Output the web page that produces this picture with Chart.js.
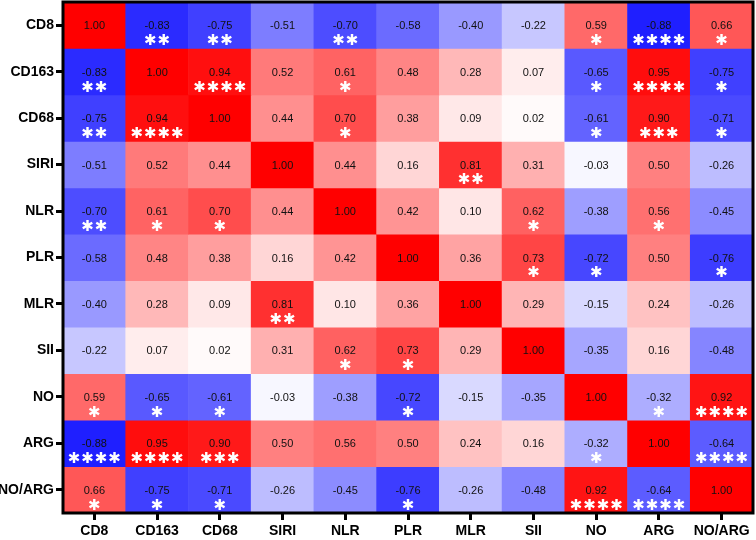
<!DOCTYPE html>
<html>
<head>
<meta charset="utf-8">
<script src="https://cdn.jsdelivr.net/npm/chart.js@4.4.0/dist/chart.umd.min.js"></script>
<style>
  html, body { margin: 0; padding: 0; background: #fff; }
  #wrap { width: 756px; height: 540px; }
</style>
</head>
<body>
<div id="wrap"><canvas id="heat"></canvas></div>
<script>
const variables = ["CD8", "CD163", "CD68", "SIRI", "NLR", "PLR", "MLR", "SII", "NO", "ARG", "NO/ARG"];

// correlation matrix, row by row (same order as variables)
const corr = [
    [ 1.00, -0.83, -0.75, -0.51, -0.70, -0.58, -0.40, -0.22,  0.59, -0.88,  0.66],
    [-0.83,  1.00,  0.94,  0.52,  0.61,  0.48,  0.28,  0.07, -0.65,  0.95, -0.75],
    [-0.75,  0.94,  1.00,  0.44,  0.70,  0.38,  0.09,  0.02, -0.61,  0.90, -0.71],
    [-0.51,  0.52,  0.44,  1.00,  0.44,  0.16,  0.81,  0.31, -0.03,  0.50, -0.26],
    [-0.70,  0.61,  0.70,  0.44,  1.00,  0.42,  0.10,  0.62, -0.38,  0.56, -0.45],
    [-0.58,  0.48,  0.38,  0.16,  0.42,  1.00,  0.36,  0.73, -0.72,  0.50, -0.76],
    [-0.40,  0.28,  0.09,  0.81,  0.10,  0.36,  1.00,  0.29, -0.15,  0.24, -0.26],
    [-0.22,  0.07,  0.02,  0.31,  0.62,  0.73,  0.29,  1.00, -0.35,  0.16, -0.48],
    [ 0.59, -0.65, -0.61, -0.03, -0.38, -0.72, -0.15, -0.35,  1.00, -0.32,  0.92],
    [-0.88,  0.95,  0.90,  0.50,  0.56,  0.50,  0.24,  0.16, -0.32,  1.00, -0.64],
    [ 0.66, -0.75, -0.71, -0.26, -0.45, -0.76, -0.26, -0.48,  0.92, -0.64,  1.00],
];

// number of significance stars per cell
const stars = [
    [0, 2, 2, 0, 2, 0, 0, 0, 1, 4, 1],
    [2, 0, 4, 0, 1, 0, 0, 0, 1, 4, 1],
    [2, 4, 0, 0, 1, 0, 0, 0, 1, 3, 1],
    [0, 0, 0, 0, 0, 0, 2, 0, 0, 0, 0],
    [2, 1, 1, 0, 0, 0, 0, 1, 0, 1, 0],
    [0, 0, 0, 0, 0, 0, 0, 1, 1, 0, 1],
    [0, 0, 0, 2, 0, 0, 0, 0, 0, 0, 0],
    [0, 0, 0, 0, 1, 1, 0, 0, 0, 0, 0],
    [1, 1, 1, 0, 0, 1, 0, 0, 0, 1, 4],
    [4, 4, 3, 0, 0, 0, 0, 0, 1, 0, 4],
    [1, 1, 1, 0, 0, 1, 0, 0, 4, 4, 0],
];

function cellColor(v) {
    const t = Math.min(1, Math.abs(v));
    const f = Math.round(255 * (1 - t));
    return v >= 0 ? `rgb(255,${f},${f})` : `rgb(${f},${f},255)`;
}

// one floating-bar dataset per row, each bar spanning one row of the y scale
const datasets = corr.map((row, r) => ({
    label: variables[r],
    data: row.map(() => [r - 0.5, r + 0.5]),
    backgroundColor: row.map(cellColor),
    borderWidth: 0,
    barPercentage: 1,
    categoryPercentage: 1,
    grouped: false,
}));

const cellText = {
    id: "cellText",
    afterDatasetsDraw(chart) {
        const ctx = chart.ctx;
        const xs = chart.scales.x, ys = chart.scales.y;
        ctx.save();
        ctx.textAlign = "center";
        ctx.textBaseline = "middle";
        for (let r = 0; r < corr.length; r++) {
            for (let c = 0; c < corr[r].length; c++) {
                const x = xs.getPixelForValue(c);
                const y = ys.getPixelForValue(r);
                ctx.fillStyle = "#111";
                ctx.font = "11px Arial, 'Liberation Sans', sans-serif";
                ctx.fillText(corr[r][c].toFixed(2), x, y + 1);
                const n = stars[r][c];
                if (n > 0) {
                    ctx.fillStyle = "#fff";
                    ctx.font = "15px 'DejaVu Sans', sans-serif";
                    const step = 13.5;
                    for (let k = 0; k < n; k++) {
                        ctx.fillText("\u2731", x + (k - (n - 1) / 2) * step, y + 16);
                    }
                }
            }
        }
        ctx.restore();
    }
};

const frame = {
    id: "frame",
    afterDraw(chart) {
        const a = chart.chartArea;
        const ctx = chart.ctx;
        ctx.save();
        ctx.strokeStyle = "#000";
        ctx.lineWidth = 3;
        ctx.strokeRect(a.left, a.top, a.right - a.left, a.bottom - a.top);
        ctx.restore();
    }
};

const tickFont = { family: "Arial, 'Liberation Sans', sans-serif", size: 14, weight: "bold" };

new Chart(document.getElementById("heat").getContext("2d"), {
    type: "bar",
    data: { labels: variables, datasets: datasets },
    options: {
        responsive: true,
        maintainAspectRatio: false,
        animation: false,
        layout: { padding: { top: 2, right: 3, left: 0, bottom: 0 } },
        plugins: { legend: { display: false }, tooltip: { enabled: false } },
        scales: {
            x: {
                grid: { offset: false, drawOnChartArea: false, color: "#000", lineWidth: 3, tickLength: 7 },
                border: { display: false },
                ticks: { color: "#000", font: tickFont, padding: 3, maxRotation: 0, autoSkip: false },
                afterFit: (s) => { s.height = 27; s.paddingLeft = 0; s.paddingRight = 0; },
            },
            y: {
                type: "linear",
                reverse: true,
                min: -0.5,
                max: 10.5,
                grid: { drawOnChartArea: false, color: "#000", lineWidth: 3, tickLength: 7 },
                border: { display: false },
                afterBuildTicks: (s) => { s.ticks = variables.map((_, i) => ({ value: i })); },
                ticks: {
                    color: "#000",
                    font: tickFont,
                    padding: 2,
                    autoSkip: false,
                    callback: (v) => variables[v],
                },
                afterFit: (s) => { s.width = 63; s.paddingTop = 0; s.paddingBottom = 0; },
            },
        },
    },
    plugins: [cellText, frame],
});
</script>
</body>
</html>
